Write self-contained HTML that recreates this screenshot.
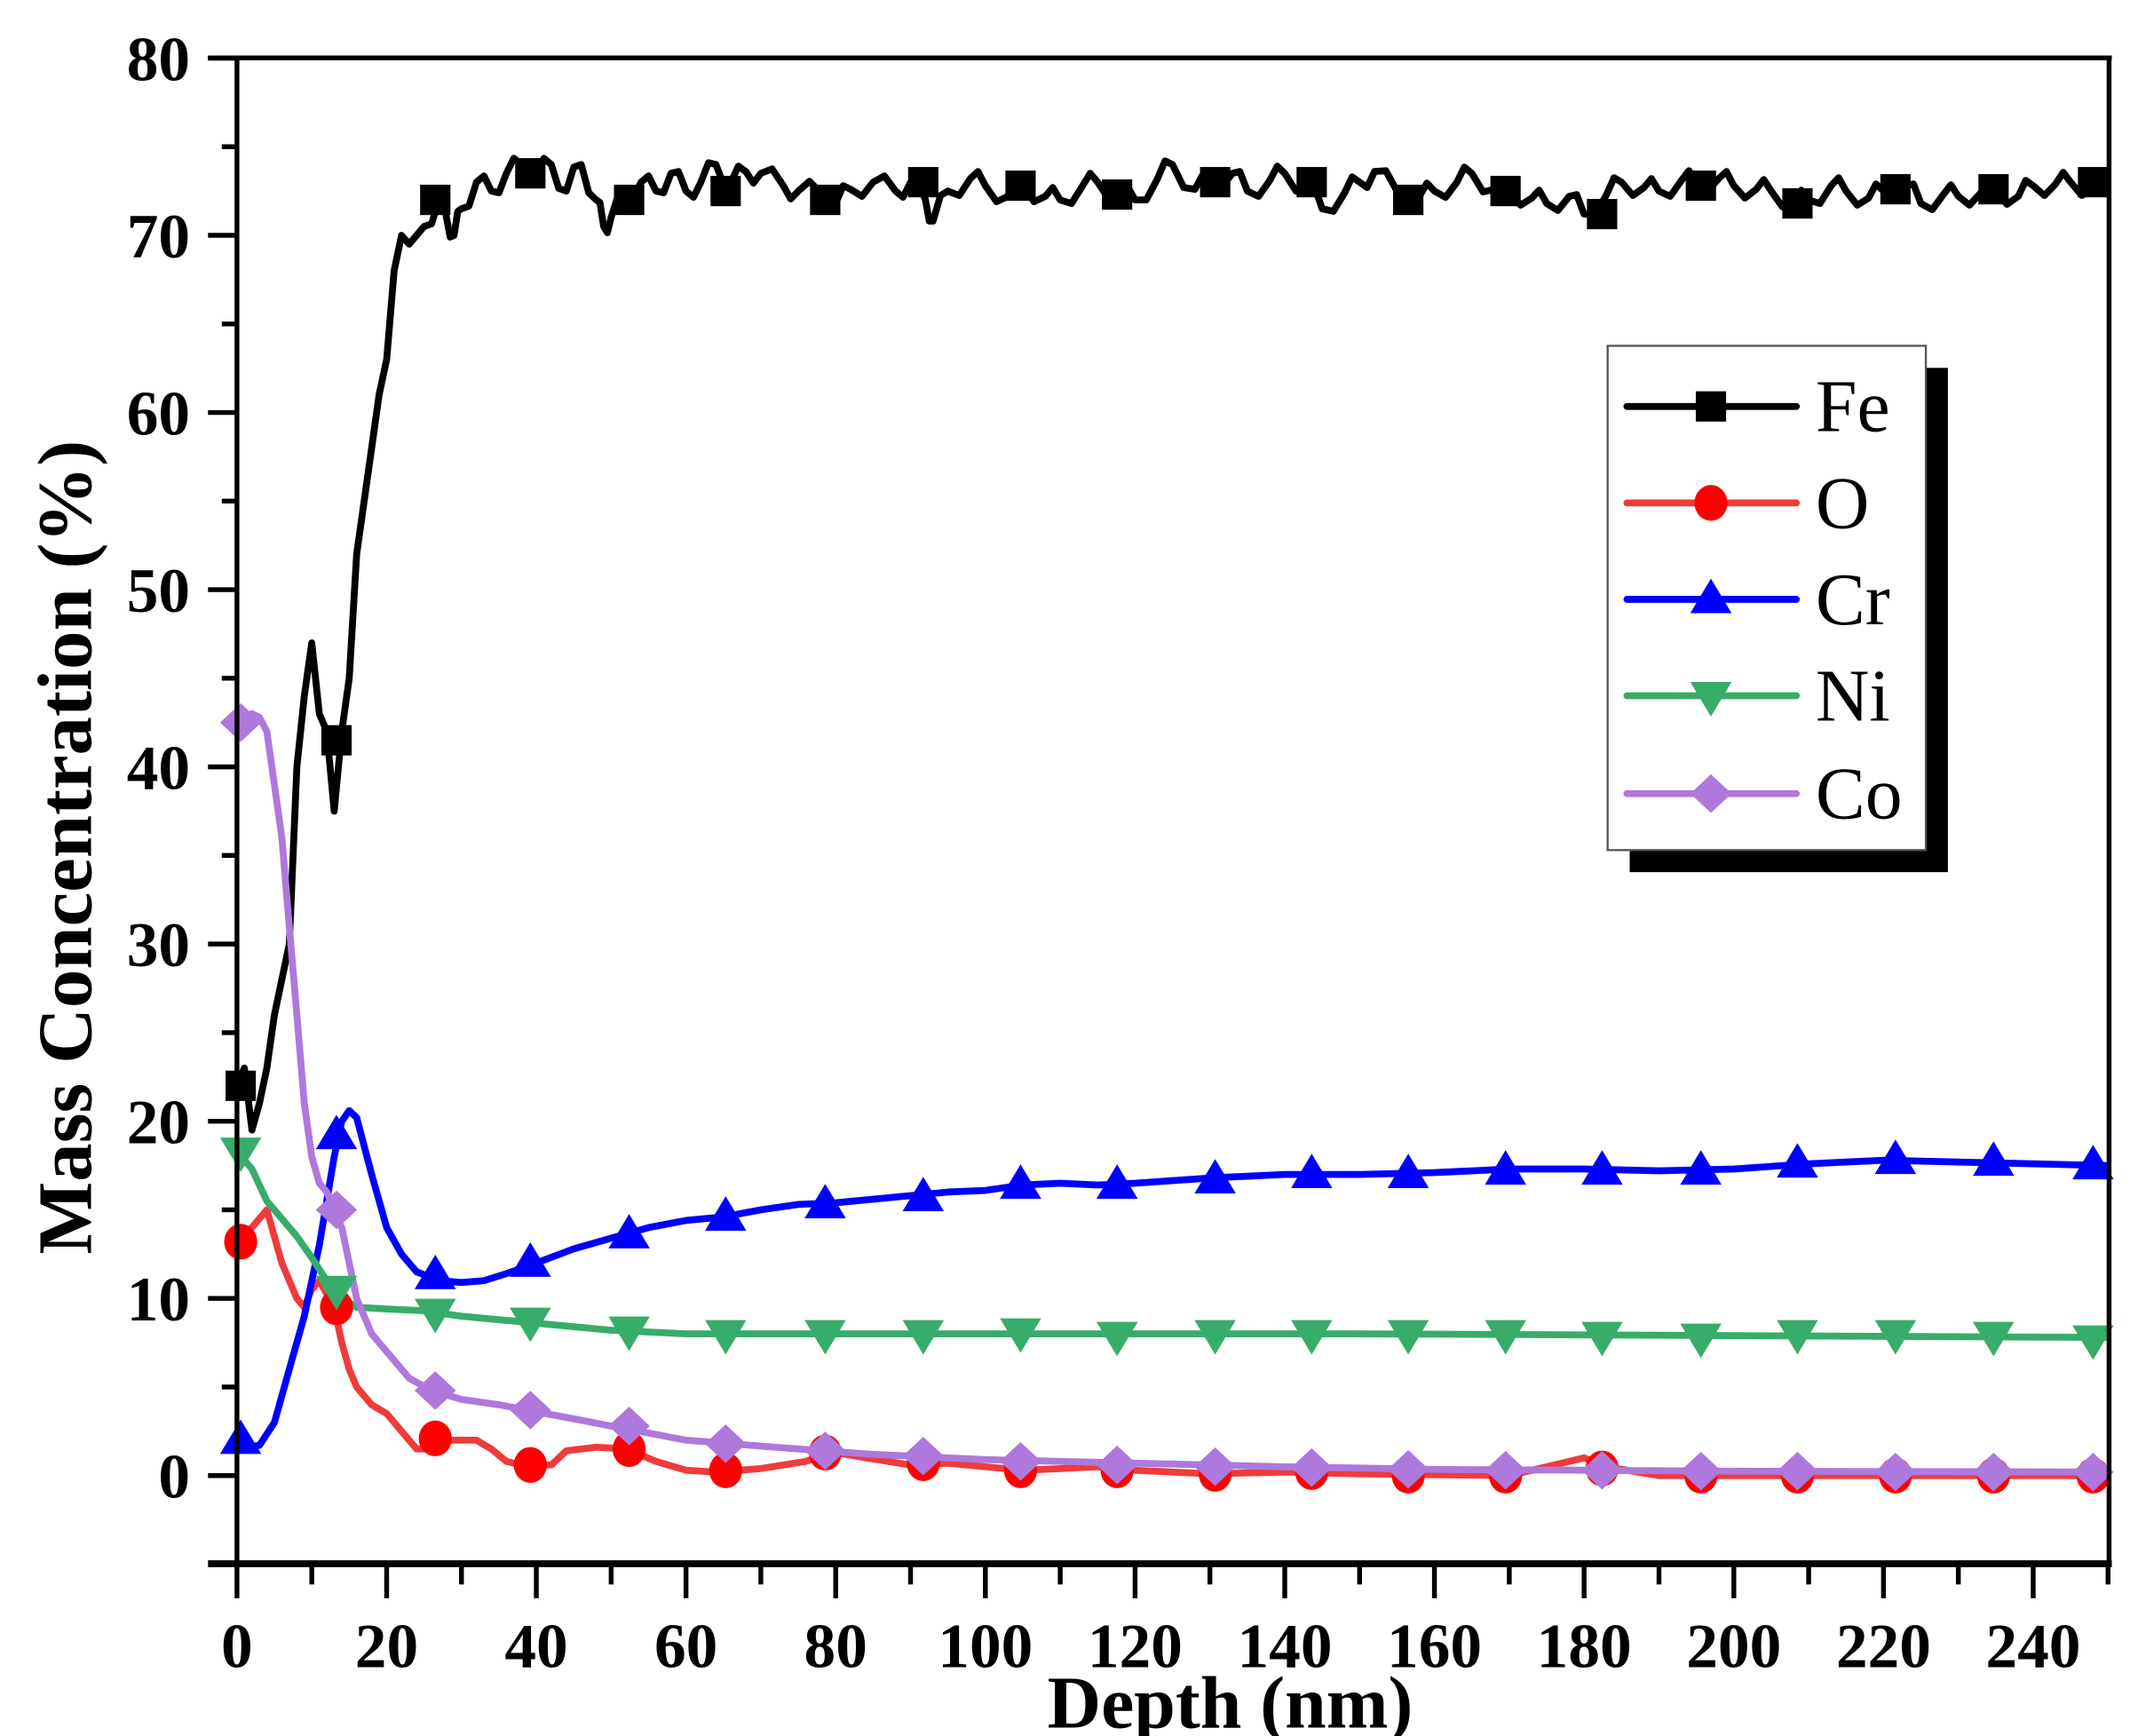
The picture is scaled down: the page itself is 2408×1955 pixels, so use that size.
<!DOCTYPE html>
<html><head><meta charset="utf-8"><style>
html,body{margin:0;padding:0;background:#fff;}
svg{display:block;}
text{font-family:"Liberation Serif",serif;}
</style></head><body>
<svg id="s" width="2408" height="1955" viewBox="0 0 1552 1260" preserveAspectRatio="none" xmlns="http://www.w3.org/2000/svg">
<rect width="1552" height="1260" fill="#fff"/>
<g id="plot"></g>
<g id="axes" stroke="#000" stroke-width="3.5" fill="none">
<line x1="151" y1="42" x2="1533" y2="42"/>
<line x1="172" y1="42" x2="172" y2="1137"/>
<line x1="1531" y1="42" x2="1531" y2="1137"/>
<line x1="151" y1="1135" x2="1533" y2="1135" stroke-width="5"/>
</g>
<g id="ticks" stroke="#000" stroke-width="3.5"></g>
<g font-weight="bold" font-size="46" text-anchor="end" id="ylab"></g>
<g font-weight="bold" font-size="46" text-anchor="middle" id="xlab"></g>
<text x="893" y="1254" font-size="54" font-weight="bold" text-anchor="middle">Depth (nm)</text>
<text transform="translate(66,615) rotate(-90)" font-size="56" font-weight="bold" text-anchor="middle">Mass Concentration (%)</text>
<rect x="1183" y="267" width="231" height="366" fill="#000"/>
<rect x="1167" y="251" width="231" height="366" fill="#fff" stroke="#555" stroke-width="1.5"/>
<g id="leg"></g>
</svg>
<script>
const X=d=>172+d*5.433, Y=v=>1071-v*12.86;
const ns="http://www.w3.org/2000/svg";
function el(p,tag,a,txt){const e=document.createElementNS(ns,tag);for(const k in a)e.setAttribute(k,a[k]);if(txt!==undefined)e.textContent=txt;document.getElementById(p).appendChild(e);return e;}
for(let v=-5;v<=80;v+=5){const maj=v%10===0;if(v===-5)continue;el('ticks','line',{x1:maj?151:161,x2:172,y1:Y(v),y2:Y(v)});if(maj)el('ylab','text',{x:138,y:Y(v)+16},String(v));}
for(let d=0;d<=250;d+=10){const maj=d%20===0;el('ticks','line',{x1:X(d),x2:X(d),y1:1135,y2:maj?1160:1150});if(maj)el('xlab','text',{x:X(d),y:1210},String(d));}
const S={
Fe:{c:"#000",d:[[0,22],[1,23],[2,19.5],[3,21],[4,23],[5,26],[7,30],[8,40],[9,44],[10,47],[11,43],[12,42],[13,37.5],[14,42],[15,45],[16,52],[18,58],[19,61],[20,63],[21,68],[22,70],[23,69.5],[25,70.5],[27,72],[28,71],[29,70],[30,71.5],[32,73],[34,72.5],[36,73.5],[38,74],[40,73.5],[42,74],[44,72.5],[46,74],[48,72],[49,70.5],[50,71],[52,72.5],[54,73],[56,72.5],[58,73.5],[60,72.5],[62,73],[64,74],[66,73],[68,73.6],[70,73.5],[73,72.8],[75,72.5],[78,72.4],[80,71.8],[82,72.6],[85,73],[88,72.5],[90,73],[92,72],[93,70.8],[95,72.5],[98,73.2],[100,72.8],[103,72.2],[105,72.8],[108,72.2],[110,72],[113,72.8],[115,73],[118,72.3],[120,72],[123,73.2],[125,74],[128,72.6],[130,73],[133,73.5],[135,72.5],[138,73.1],[140,73.5],[143,72.7],[145,71.5],[148,72.4],[150,73],[152,73.6],[155,72.5],[158,72.2],[160,72.5],[163,73],[165,73.5],[168,72.6],[170,72.5],[173,72.1],[175,71.8],[178,72.2],[180,71.2],[183,72.3],[185,73],[188,72.7],[190,72.5],[193,73.1],[195,73],[198,73.2],[200,72.8],[203,72.6],[205,72.5],[208,71.9],[210,72],[213,72.8],[215,72.5],[218,72.1],[220,72.5],[223,72.8],[225,71.8],[228,72.3],[230,72.2],[233,72.4],[235,72.5],[238,72.2],[240,72.8],[243,72.9],[245,73],[248,72.7],[250,72.5]],m:[22,41.5,72,73.5,72,72.5,72,73,72.8,72.3,73,73,72,72.5,71.2,72.8,71.8,72.6,72.6,73]},
O:{c:"#ef3b3b",mc:"#ff0000",d:[[0,13],[3,14.5],[4,15],[6,12],[8,10],[9,9.5],[10,10.5],[11,11],[13,9.5],[14,7.5],[15,6],[16,5],[18,4],[20,3.5],[22,2.5],[24,1.5],[26,1.5],[28,2],[32,2],[34,1.5],[36,0.8],[38,0.6],[42,0.6],[44,1.4],[48,1.6],[52,1.5],[56,0.8],[60,0.3],[64,0.2],[70,0.4],[76,0.8],[80,1.3],[84,1.0],[90,0.6],[95,0.7],[100,0.5],[105,0.3],[110,0.4],[115,0.5],[120,0.3],[130,0.1],[140,0.2],[150,0.1],[170,0.0],[175,0.5],[180,1.0],[183,0.5],[190,0],[250,0]],m:[13.2,9.5,2.1,0.6,1.5,0.3,1.3,0.7,0.3,0.3,0.1,0.2,0,0,0.4,0,0,0,0,0]},
Cr:{c:"#0000ff",d:[[0,2.2],[1,1.6],[3,1.7],[5,3],[7,6],[9,9],[11,13],[13,18],[14,20],[15,20.6],[16,20.2],[18,17],[20,14],[22,12.5],[24,11.5],[27,11],[30,10.9],[33,11],[36,11.4],[40,12],[45,12.8],[50,13.4],[55,14],[60,14.4],[65,14.6],[70,15],[75,15.3],[80,15.4],[85,15.6],[90,15.8],[95,16],[100,16.1],[105,16.4],[110,16.5],[115,16.4],[120,16.5],[130,16.8],[140,17],[150,17],[160,17.1],[170,17.3],[180,17.3],[190,17.2],[200,17.3],[210,17.6],[220,17.8],[230,17.7],[240,17.6],[250,17.5]],m:[2,19.2,11.3,12,13.6,14.6,15.3,15.7,16.4,16.4,16.7,17,17,17.2,17.2,17.2,17.6,17.8,17.7,17.5]},
Ni:{c:"#38ac6a",d:[[0,18.3],[2,17.3],[4,15.5],[6,14.5],[8,13.5],[10,12.3],[12,11],[14,10],[16,9.5],[20,9.4],[25,9.3],[30,9],[40,8.6],[50,8.2],[60,8],[80,8],[100,8],[150,8],[200,7.9],[250,7.8]],m:[18.3,10.5,9.2,8.7,8.2,8,8,8,8.1,7.9,8,8,8,8,7.9,7.8,8,8,7.9,7.7]},
Co:{c:"#ae78dc",d:[[0,42.5],[2,43],[3,42.8],[4,42],[5,39],[6,36],[7,31],[8,26],[9,21],[10,18],[11,16.5],[12,16],[13,15],[14,14],[15,12],[16,10],[18,8],[20,7],[23,5.5],[26,4.8],[30,4.3],[35,4],[40,3.6],[45,3.2],[50,2.8],[55,2.4],[60,2],[66,1.8],[75,1.5],[85,1.2],[100,0.9],[120,0.7],[140,0.5],[160,0.35],[180,0.3],[200,0.25],[250,0.2]],m:[42.5,15,4.8,3.7,2.8,1.8,1.4,1.1,0.8,0.6,0.5,0.45,0.35,0.3,0.3,0.25,0.25,0.2,0.2,0.2]}
};
// add jaggedness to Fe plateau
(function(){const d=S.Fe.d,o=[];for(let i=0;i<d.length;i++){o.push(d[i]);if(i<d.length-1&&d[i][0]>=25){const mx=(d[i][0]+d[i+1][0])/2,my=(d[i][1]+d[i+1][1])/2+((i%2)?0.6:-0.6);o.push([mx,my]);}}S.Fe.d=o;})();
const md=[0.5,13.3,26.5,39.2,52.4,65.3,78.6,91.7,104.7,117.6,130.7,143.6,156.5,169.5,182.4,195.6,208.5,221.6,234.7,248];
function marker(g,k,x,y,col){
 if(k==='Fe')el(g,'rect',{x:x-11,y:y-11,width:22,height:22,fill:col});
 else if(k==='O')el(g,'ellipse',{cx:x,cy:y,rx:12,ry:13,fill:col});
 else if(k==='Cr')el(g,'polygon',{points:`${x},${y-15} ${x+15},${y+10} ${x-15},${y+10}`,fill:col});
 else if(k==='Ni')el(g,'polygon',{points:`${x},${y+15} ${x+15},${y-10} ${x-15},${y-10}`,fill:col});
 else el(g,'polygon',{points:`${x},${y-14} ${x+15},${y} ${x},${y+14} ${x-15},${y}`,fill:col});
}
for(const k of ['Fe','O','Cr','Ni','Co']){const s=S[k];
 el('plot','polyline',{points:s.d.map(p=>X(p[0]).toFixed(1)+','+Y(p[1]).toFixed(1)).join(' '),fill:'none',stroke:s.c,'stroke-width':5,'stroke-linejoin':'round'});
}
for(const k of ['Fe','O','Cr','Ni','Co']){const s=S[k];
 md.forEach((d,i)=>marker('plot',k,X(d),Y(s.m[i]),s.mc||s.c));
}
const ly=[295,365,435,505,576];
['Fe','O','Cr','Ni','Co'].forEach((k,i)=>{const s=S[k];
 el('leg','line',{x1:1181,x2:1304,y1:ly[i],y2:ly[i],stroke:s.c,'stroke-width':5,'stroke-linecap':'round'});
 marker('leg',k,1242,ly[i],s.mc||s.c);
 el('leg','text',{x:1318,y:ly[i]+18,'font-size':54},k);
});
</script>
</body></html>
